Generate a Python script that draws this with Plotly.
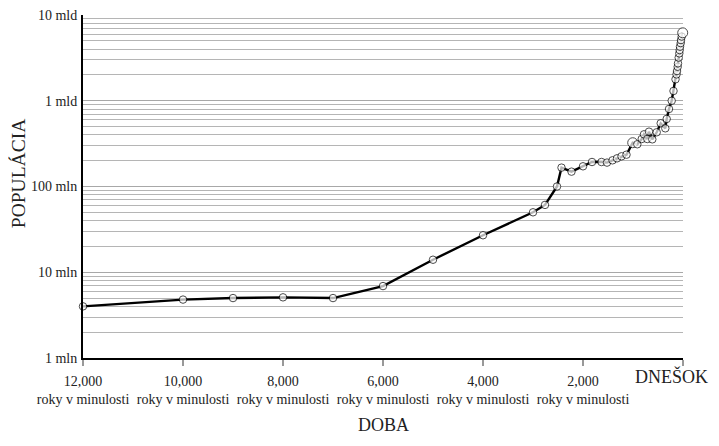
import plotly.graph_objects as go

# Years before present and world population estimates
years_ago = [12000, 10000, 9000, 8000, 7000, 6000, 5000, 4000, 3000, 2760, 2520,
             2430, 2230, 2000, 1820, 1630, 1520, 1410, 1320, 1230, 1130,
             1006, 914, 826, 780, 714, 680, 614, 526, 446, 354, 326, 280, 226,
             190, 150, 130, 120, 106, 100, 86, 74, 66, 60, 46, 40, 26, 6]
population = [4.0e6, 4.8e6, 5.0e6, 5.1e6, 5.0e6, 6.9e6, 14e6, 27e6, 50e6, 61e6, 100e6,
              166e6, 149e6, 172e6, 193e6, 193e6, 190e6, 202e6, 213e6, 225e6, 235e6,
              324e6, 311e6, 358e6, 406e6, 358e6, 436e6, 355e6, 429e6, 546e6, 477e6, 614e6, 802e6, 1.0e9,
              1.3e9, 1.78e9, 2.03e9, 2.22e9, 2.49e9, 2.73e9, 3.18e9, 3.57e9, 3.9e9, 4.27e9,
              4.7e9, 5.1e9, 5.6e9, 6.2e9]
highlight_years = [1006, 6]

x_tick_vals = [12000, 10000, 8000, 6000, 4000, 2000, 0]
x_tick_numbers = ["12,000", "10,000", "8,000", "6,000", "4,000", "2,000"]
x_tick_sub = "roky v minulosti"
x_tick_today = "DNEŠOK"

y_tick_vals = [1e6, 1e7, 1e8, 1e9, 1e10]
y_tick_text = ["1 mln", "10 mln", "100 mln", "1 mld", "10 mld"]

x_title = "DOBA"
y_title = "POPULÁCIA"

FONT = "Liberation Serif, Times New Roman, serif"
TXT = "#222"

x_tick_text = [f"{n}<br>{x_tick_sub}" for n in x_tick_numbers] + [""]

sizes = [10 if y in highlight_years else 7.5 for y in years_ago]

fig = go.Figure()
fig.add_trace(go.Scatter(
    x=years_ago, y=population, mode="lines+markers",
    line=dict(color="black", width=2.4),
    marker=dict(size=sizes, color="white", line=dict(color="black", width=1)),
    cliponaxis=False, showlegend=False,
))

fig.update_layout(
    width=703, height=430,
    margin=dict(l=75, r=28, t=7, b=80, autoexpand=False),
    paper_bgcolor="white", plot_bgcolor="white",
    font=dict(family=FONT, color=TXT, size=14),
)
fig.update_xaxes(
    range=[12000, 0], tickvals=x_tick_vals, ticktext=x_tick_text,
    showgrid=False, zeroline=False, automargin=False,
    showline=True, linecolor="black", linewidth=2,
    ticks="outside", ticklen=6, tickwidth=1.5, tickcolor="#999",
    ticklabelstandoff=3, ticklabeloverflow="allow",
    tickfont=dict(family=FONT, size=14, color=TXT),
)
fig.update_yaxes(
    type="log", range=[6, 10], tickvals=y_tick_vals, ticktext=y_tick_text,
    showgrid=True, gridcolor="#a8a8a8", gridwidth=1, zeroline=False, automargin=False,
    showline=True, linecolor="black", linewidth=2,
    ticks="", ticklabelstandoff=1, ticklabeloverflow="allow",
    minor=dict(dtick="D1", showgrid=True, gridcolor="#b5b5b5", gridwidth=1, ticks=""),
    tickfont=dict(family=FONT, size=14, color=TXT),
)

fig.add_annotation(x=0, xref="x", y=-0.018, yref="paper", text=x_tick_today,
                   showarrow=False, xanchor="right", yanchor="top", xshift=27,
                   font=dict(family=FONT, size=18, color=TXT))
fig.add_annotation(x=0.5, xref="paper", y=-0.163, yref="paper", text=x_title,
                   showarrow=False, xanchor="center", yanchor="top", borderpad=0,
                   font=dict(family=FONT, size=18, color=TXT))
fig.add_annotation(x=0, xref="paper", y=0.536, yref="paper", text=y_title,
                   showarrow=False, xanchor="center", yanchor="middle", xshift=-65,
                   textangle=-90, font=dict(family=FONT, size=19.5, color=TXT))

fig.write_html("out.html")
